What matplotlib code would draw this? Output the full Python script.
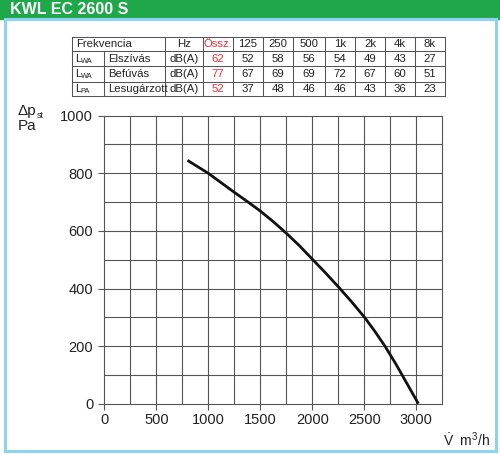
import matplotlib
matplotlib.use("Agg")
import matplotlib.pyplot as plt
from matplotlib.patches import Rectangle
from matplotlib.lines import Line2D

plt.rcParams['font.family'] = ['Liberation Sans', 'DejaVu Sans']
plt.rcParams['mathtext.fontset'] = 'custom'
plt.rcParams['mathtext.rm'] = 'Liberation Sans'
plt.rcParams['mathtext.it'] = 'Liberation Sans'

# ---- data ----
title = "KWL EC 2600 S"
freq_labels = ["125", "250", "500", "1k", "2k", "4k", "8k"]
row_symbols = ["WA", "WA", "PA"]
row_names = ["Elszívás", "Befúvás", "Lesugárzott"]
row_totals = [62, 77, 52]
row_elszivas = [52, 58, 56, 54, 49, 43, 27]
row_befuvas = [67, 69, 69, 72, 67, 60, 51]
row_lesugarzott = [37, 48, 46, 46, 43, 36, 23]

flow = [800, 1000, 1125, 1250, 1375, 1500, 1625, 1750, 1875, 2000, 2125, 2250,
        2375, 2500, 2600, 2700, 2800, 2860, 2940, 3020]
pressure = [845, 800, 767, 734, 702, 669, 632, 592, 549, 502, 455, 406,
            355, 301, 252, 199, 140, 102, 51, 0]

x_ticks = [0, 500, 1000, 1500, 2000, 2500, 3000]
y_ticks = [0, 200, 400, 600, 800, 1000]

W, H = 500, 454
fig = plt.figure(figsize=(W / 100, H / 100), dpi=100)

def fx(px):
    return px / W

def fy(py):
    return 1 - py / H

# frame
green = "#1fa84a"
blue = "#8fd3f0"
fig.patches.append(Rectangle((0, fy(18.5)), 1, 18.5 / H, transform=fig.transFigure,
                             color=green, zorder=0))
fig.text(fx(10), fy(9.5), title, color="white", fontsize=11.5, fontweight="bold",
         va="center", ha="left")
fig.patches.append(Rectangle((fx(5), fy(451)), fx(491), (451 - 18.5) / H,
                             transform=fig.transFigure, fill=False,
                             edgecolor=blue, linewidth=2.2, zorder=0))

# table
col_x = [72, 104, 165, 203, 233, 263, 293, 325, 355, 385, 415, 445]
row_y = [36.5, 50.5, 66, 81.5, 96]
lc = "#555555"
tlw = 0.75
for yy in row_y:
    fig.add_artist(Line2D([fx(col_x[0]), fx(col_x[-1])], [fy(yy), fy(yy)],
                          color=lc, lw=tlw, transform=fig.transFigure))
for i, xx in enumerate(col_x):
    top = row_y[1] if i == 1 else row_y[0]
    fig.add_artist(Line2D([fx(xx), fx(xx)], [fy(top), fy(row_y[-1])],
                          color=lc, lw=tlw, transform=fig.transFigure))

fs = 8.2
red = "#e8303a"
tcol = "#222222"
ymid = [(row_y[i] + row_y[i + 1]) / 2 + 0.5 for i in range(4)]
fig.text(fx(76), fy(ymid[0]), "Frekvencia", fontsize=fs, va="center", ha="left",
         color=tcol)
fig.text(fx((col_x[2] + col_x[3]) / 2), fy(ymid[0]), "Hz", fontsize=fs, va="center",
         ha="center", color=tcol)
fig.text(fx((col_x[3] + col_x[4]) / 2), fy(ymid[0]), "Össz.", fontsize=fs, va="center",
         ha="center", color=red)
for j, lab in enumerate(freq_labels):
    fig.text(fx((col_x[4 + j] + col_x[5 + j]) / 2), fy(ymid[0]), lab, fontsize=fs,
             va="center", ha="center", color=tcol)
rows = [row_elszivas, row_befuvas, row_lesugarzott]
for i in range(3):
    yc = fy(ymid[i + 1])
    fig.text(fx(75), yc, "L", fontsize=fs, va="center", ha="left", color=tcol)
    fig.text(fx(80.5), fy(ymid[i + 1] + 2.5), row_symbols[i], fontsize=5.3, va="center",
             ha="left", color=tcol)
    fig.text(fx(108), yc, row_names[i], fontsize=fs, va="center", ha="left", color=tcol)
    fig.text(fx((col_x[2] + col_x[3]) / 2), yc, "dB(A)", fontsize=fs, va="center",
             ha="center", color=tcol)
    fig.text(fx((col_x[3] + col_x[4]) / 2), yc, str(row_totals[i]), fontsize=fs,
             va="center", ha="center", color=red)
    for j, v in enumerate(rows[i]):
        fig.text(fx((col_x[4 + j] + col_x[5 + j]) / 2), yc, str(v), fontsize=fs,
                 va="center", ha="center", color=tcol)

# chart axes
x_left, x_right = 104.3, 442.3
y_top, y_bot = 115.7, 403.7
ax = fig.add_axes([fx(x_left), fy(y_bot), (x_right - x_left) / W, (y_bot - y_top) / H])
ax.set_xlim(0, 3250)
ax.set_ylim(0, 1000)
gc = "#555555"
for v in range(250, 3250, 250):
    ax.axvline(v, color=gc, lw=0.8, zorder=1)
for v in range(100, 1000, 100):
    ax.axhline(v, color=gc, lw=0.8, zorder=1)
for s in ax.spines.values():
    s.set_color(gc)
    s.set_linewidth(0.8)
ax.set_xticks(x_ticks)
ax.set_yticks(y_ticks)
ax.tick_params(axis='both', colors=gc, length=4, width=0.8, labelcolor="#222222",
               labelsize=10.5)
ax.tick_params(axis='x', pad=3)
ax.tick_params(axis='y', pad=4)

ax.plot(flow, pressure, color="#111111", lw=2.0, zorder=3, solid_capstyle='butt',
        solid_joinstyle='round')

fig.text(fx(18), fy(111), "Δp", fontsize=11, ha="left", va="center", color="#222222")
fig.text(fx(37), fy(115), "st", fontsize=6.5, ha="left", va="center", color="#222222")
fig.text(fx(18), fy(125.5), "Pa", fontsize=11, ha="left", va="center", color="#222222")
fig.text(fx(490), fy(440), r"$\dot{\mathrm{V}}$  m$^{3}$/h", fontsize=10, ha="right",
         va="center", color="#222222")

fig.savefig("out.png", dpi=100)
